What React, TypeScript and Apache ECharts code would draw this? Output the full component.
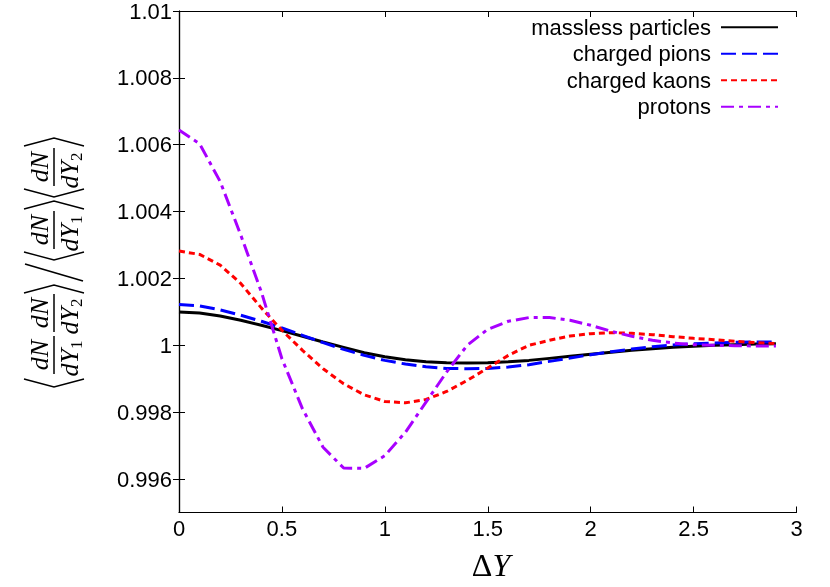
import React, { useEffect, useRef } from "react";
import * as echarts from "echarts";

const deltaY = [0, 0.1, 0.2, 0.3, 0.4, 0.5, 0.6, 0.7, 0.8, 0.9, 1.0, 1.1, 1.2, 1.3, 1.4, 1.5, 1.6, 1.7, 1.8, 1.9, 2.0, 2.1, 2.2, 2.3, 2.4, 2.5, 2.6, 2.7, 2.8, 2.9];

const massless = [1.001, 1.00097, 1.00088, 1.00075, 1.0006, 1.00044, 1.00027, 1.0001, 0.99994, 0.99978, 0.99966, 0.99957, 0.99951, 0.99948, 0.99947, 0.99948, 0.99951, 0.99955, 0.99961, 0.99967, 0.99973, 0.99979, 0.99985, 0.9999, 0.99994, 0.99997, 1.0, 1.00002, 1.00004, 1.00005];

const pions = [1.00122, 1.00118, 1.00106, 1.0009, 1.00072, 1.00052, 1.0003, 1.00008, 0.99988, 0.9997, 0.99955, 0.99944, 0.99936, 0.99931, 0.9993, 0.99931, 0.99935, 0.99942, 0.99952, 0.99962, 0.99972, 0.99981, 0.99989, 0.99996, 1.00001, 1.00005, 1.00007, 1.00009, 1.0001, 1.0001];

const kaons = [1.00282, 1.00272, 1.0024, 1.00185, 1.00112, 1.00045, 0.99985, 0.9993, 0.99885, 0.99852, 0.99832, 0.99828, 0.99838, 0.99862, 0.99895, 0.99932, 0.9997, 1.0, 1.00015, 1.00028, 1.00035, 1.00038, 1.00036, 1.00032, 1.00026, 1.00021, 1.00017, 1.00012, 1.00008, 1.00005];

const protons = [1.00644, 1.00603, 1.0049, 1.0033, 1.0016, 0.9996, 0.9981, 0.99695, 0.99633, 0.99632, 0.9967, 0.9974, 0.9983, 0.9992, 1.0, 1.00048, 1.00072, 1.00083, 1.00083, 1.00075, 1.0006, 1.00042, 1.00027, 1.00015, 1.00007, 1.00002, 1.0, 0.99999, 0.99998, 0.99998];

const seriesNames = ["massless particles", "charged pions", "charged kaons", "protons"];
const yTicks = [0.996, 0.998, 1, 1.002, 1.004, 1.006, 1.008, 1.01];

const sansFont = '"Liberation Sans", Arial, sans-serif';
const mathFont = '"Liberation Serif", "DejaVu Serif", serif';
const F = 26;

function fracEls(c: number, sub: string): any[] {
  return [
    {
      type: "text",
      x: c,
      y: -15,
      style: { text: "dN", fontSize: F, fontStyle: "italic", fontFamily: mathFont, fill: "#000", align: "center", verticalAlign: "middle" },
    },
    {
      type: "line",
      shape: { x1: c - 19, y1: 0, x2: c + 19, y2: 0 },
      style: { stroke: "#000", lineWidth: 1.5 },
    },
    {
      type: "text",
      x: c + 6,
      y: 15,
      style: { text: "dY", fontSize: F, fontStyle: "italic", fontFamily: mathFont, fill: "#000", align: "right", verticalAlign: "middle" },
    },
    {
      type: "text",
      x: c + 6,
      y: 22,
      style: { text: sub, fontSize: 17, fontFamily: mathFont, fill: "#000", align: "left", verticalAlign: "middle" },
    },
  ];
}

function bracketEl(x: number, dir: number): any {
  return {
    type: "polyline",
    shape: { points: [[x + 8 * dir, -30], [x, 0], [x + 8 * dir, 30]] },
    style: { stroke: "#000", lineWidth: 1.4, fill: null },
  };
}

function yLabelGroup(): any {
  const children: any[] = [
    bracketEl(4, 1),
    ...fracEls(36, "1"),
    ...fracEls(78, "2"),
    bracketEl(106, -1),
    { type: "line", shape: { x1: 110, y1: 29, x2: 127, y2: -29 }, style: { stroke: "#000", lineWidth: 1.6 } },
    bracketEl(131, 1),
    ...fracEls(161, "1"),
    bracketEl(190, -1),
    bracketEl(194, 1),
    ...fracEls(224, "2"),
    bracketEl(253, -1),
  ];
  return { type: "group", x: 54, y: 391, rotation: Math.PI / 2, children };
}

export default function App() {
  const ref = useRef<HTMLDivElement>(null);
  useEffect(() => {
    if (!ref.current) return;
    const chart = echarts.init(ref.current, undefined, { renderer: "svg" });
    const mk = (arr: number[]) => deltaY.map((x, i) => [x, arr[i]]);
    const styles = [
      { color: "#000000", type: "solid" as any },
      { color: "#0000ff", type: [15, 6] },
      { color: "#ff0000", type: [6, 4] },
      { color: "#a800ff", type: [13, 5, 4, 5] },
    ];
    const dataSets = [massless, pions, kaons, protons];
    const axisLineStyle = { color: "#000", width: 1.2 };
    const fmtY = (v: number) => String(parseFloat(v.toFixed(3)));
    chart.setOption({
      animation: false,
      grid: { left: 179, right: 33.5, top: 11, bottom: 74.5, containLabel: false, outerBoundsMode: "none" },
      legend: {
        orient: "vertical",
        align: "right",
        right: 51,
        top: 14,
        padding: 0,
        itemGap: 0,
        itemWidth: 57,
        itemHeight: 14,
        data: seriesNames,
        itemStyle: { opacity: 0 },
        textStyle: { fontSize: 22, fontFamily: sansFont, color: "#000", lineHeight: 26.5, padding: [0, 5, 0, 0] },
      },
      xAxis: [
        {
          type: "value",
          min: 0,
          max: 3,
          interval: 0.5,
          position: "bottom",
          axisLine: { show: true, lineStyle: axisLineStyle },
          axisTick: { show: true, inside: true, length: 6, lineStyle: { color: "#000" } },
          axisLabel: { fontSize: 22, fontFamily: sansFont, color: "#000", margin: 5, formatter: (v: number) => String(v) },
          splitLine: { show: false },
        },
        {
          type: "value",
          min: 0,
          max: 3,
          interval: 0.5,
          position: "top",
          axisLine: { show: true, lineStyle: axisLineStyle },
          axisTick: { show: true, inside: true, length: 6, lineStyle: { color: "#000" } },
          axisLabel: { show: false },
          splitLine: { show: false },
        },
      ],
      yAxis: [
        {
          type: "value",
          min: 0.995,
          max: 1.01,
          position: "left",
          axisLine: { show: true, lineStyle: axisLineStyle },
          axisTick: { show: true, inside: true, length: 6, lineStyle: { color: "#000" }, customValues: yTicks },
          axisLabel: { fontSize: 22, fontFamily: sansFont, color: "#000", margin: 7, customValues: yTicks, formatter: fmtY },
          splitLine: { show: false },
        },
        {
          type: "value",
          min: 0.995,
          max: 1.01,
          position: "right",
          axisLine: { show: true, lineStyle: axisLineStyle },
          axisTick: { show: true, inside: true, length: 6, lineStyle: { color: "#000" }, customValues: yTicks },
          axisLabel: { show: false, customValues: yTicks },
          splitLine: { show: false },
        },
      ],
      series: seriesNames.map((name, i) => ({
        name,
        type: "line",
        xAxisIndex: 0,
        yAxisIndex: 0,
        data: mk(dataSets[i]),
        symbol: "none",
        showSymbol: false,
        smooth: false,
        clip: true,
        lineStyle: { color: styles[i].color, width: 3, type: styles[i].type },
        itemStyle: { color: styles[i].color },
        emphasis: { disabled: true },
      })),
      graphic: [
        yLabelGroup(),
        {
          type: "text",
          x: 491,
          y: 565,
          style: {
            text: "{a|Δ}{b|Y}",
            align: "center",
            verticalAlign: "middle",
            rich: {
              a: { fontSize: 32, fontFamily: mathFont, fill: "#000" },
              b: { fontSize: 32, fontFamily: mathFont, fontStyle: "italic", fill: "#000" },
            },
          },
        },
      ],
    });
    return () => chart.dispose();
  }, []);
  return <div ref={ref} style={{ position: "fixed", left: 0, top: 0, width: 830, height: 587 }} />;
}
